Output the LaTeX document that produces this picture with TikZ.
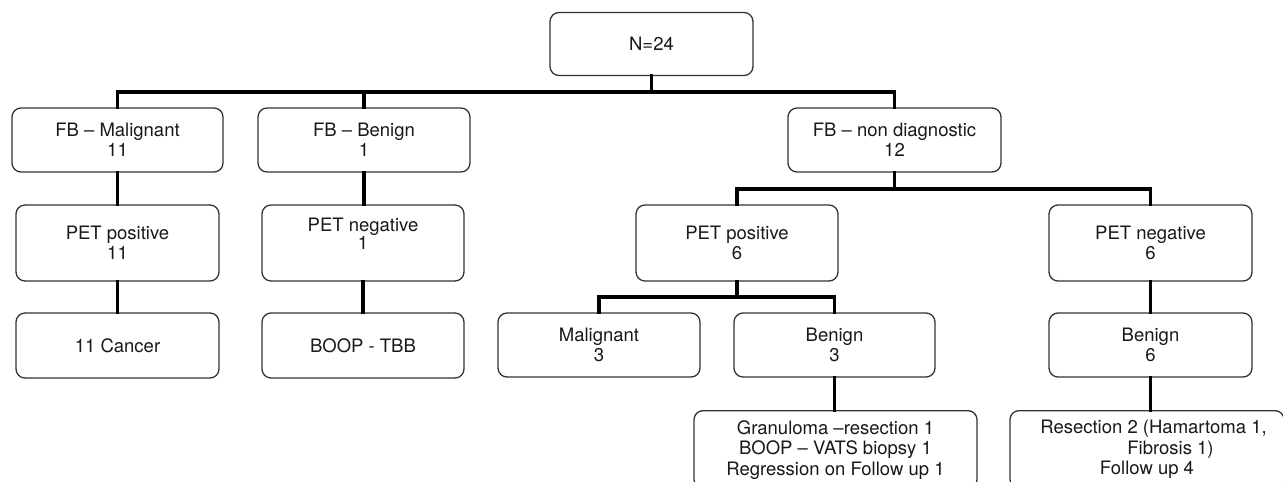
\documentclass[tikz,border=0pt]{standalone}
\usepackage{fontspec}
\setmainfont{TeX Gyre Heros}
\begin{document}
\begin{tikzpicture}[x=1pt,y=-1pt,
  box/.style={draw=black!80, line width=1.3pt, rounded corners=9pt, fill=white,
    align=center, inner sep=0pt, text=black!90,
    font=\fontsize{18.5}{20.5}\selectfont},
  bare/.style={align=center, inner sep=0pt, text=black!90,
    font=\fontsize{18.5}{18.5}\selectfont},
  conn/.style={draw=black, line width=3.6pt, line join=miter, line cap=rect}]
\useasboundingbox (0,0) rectangle (1283,482);
\clip (0,0) rectangle (1283,482);

% levels of the horizontal branch lines
\coordinate (busA) at (0,92);
\coordinate (busB) at (0,189);
\coordinate (busC) at (0,297);

% boxes
\node[box, minimum width=203pt, minimum height=63pt] (n) at (651.5,44) {N=24};

\node[box, minimum width=211pt, minimum height=64pt] (fbm) at (117.5,140) {FB -- Malignant\\11};
\node[box, minimum width=212pt, minimum height=64pt] (fbb) at (364,140) {FB -- Benign\\1};
\node[box, minimum width=213pt, minimum height=64pt] (fbn) at (894.5,140) {FB -- non diagnostic\\12};

\node[box, minimum width=203pt, minimum height=76pt] (pp11) at (117.5,243) {PET positive\\11};
\node[box, minimum width=202pt, minimum height=76pt] (pn1) at (363,243) {};
\node[bare] (pn1t) at ([yshift=9pt]pn1.center) {PET negative\\1};
\node[box, minimum width=202pt, minimum height=76pt] (pp6) at (737,243) {PET positive\\6};
\node[box, minimum width=203pt, minimum height=76pt] (pn6) at (1150.5,243) {PET negative\\6};

\node[box, minimum width=203pt, minimum height=65pt] (c11) at (117.5,345.5) {11 Cancer};
\node[box, minimum width=202pt, minimum height=65pt] (boop) at (363,345.5) {BOOP - TBB};
\node[box, minimum width=202pt, minimum height=64pt] (m3) at (599,345) {Malignant\\3};
\node[box, minimum width=201pt, minimum height=64pt] (b3) at (834.5,345) {Benign\\3};
\node[box, minimum width=203pt, minimum height=64pt] (b6) at (1150.5,345) {Benign\\6};

\node[box, minimum width=283pt, minimum height=78pt, anchor=north] (g) at (835.5,410)
  {Granuloma --resection 1\\BOOP -- VATS biopsy 1\\Regression on Follow up 1};
\node[box, minimum width=274pt, minimum height=78pt, anchor=north] (r) at (1147,410)
  {\hspace*{13pt}Resection 2 (Hamartoma 1,\\\hspace*{47pt}Fibrosis 1)\\Follow up 4};

% tree connectors
\draw[conn] (n.south) -- (n.south |- busA);
\draw[conn] (fbm.north) -- (fbm.north |- busA) -- (fbn.north |- busA) -- (fbn.north);
\draw[conn] (fbb.north) -- (fbb.north |- busA);

\draw[conn] (fbm.south) -- (fbm.south |- pp11.north);
\draw[conn] (fbb.south) -- (fbb.south |- pn1.north);
\draw[conn] (fbn.south) -- (fbn.south |- busB);
\draw[conn] (pp6.north) -- (pp6.north |- busB) -- (pn6.north |- busB) -- (pn6.north);

\draw[conn] (pp11.south) -- (pp11.south |- c11.north);
\draw[conn] (pn1.south) -- (pn1.south |- boop.north);
\draw[conn] (pp6.south) -- (pp6.south |- busC);
\draw[conn] (m3.north) -- (m3.north |- busC) -- (b3.north |- busC) -- (b3.north);
\draw[conn] (pn6.south) -- (pn6.south |- b6.north);

\draw[conn] (b3.south) -- (b3.south |- g.north);
\draw[conn] (b6.south) -- (b6.south |- r.north);
\end{tikzpicture}
\end{document}
